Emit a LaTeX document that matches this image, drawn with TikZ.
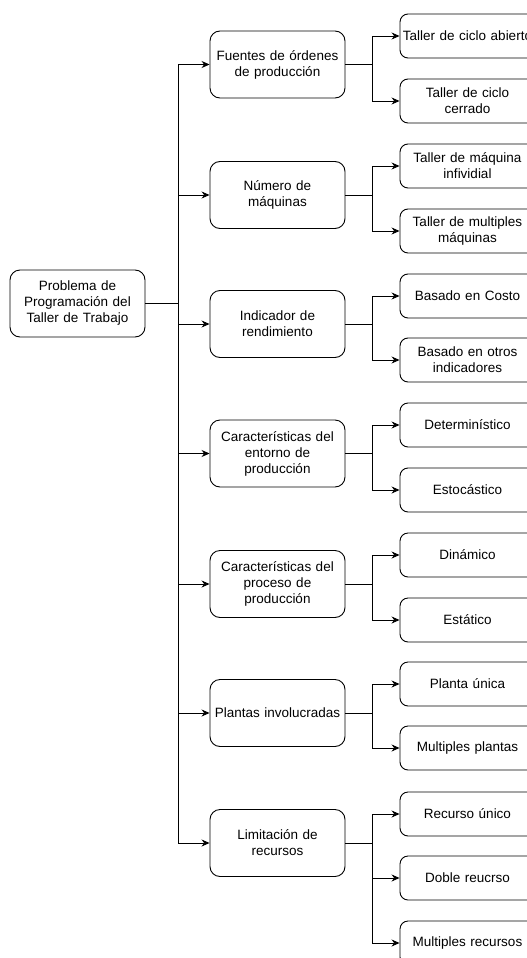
\documentclass[tikz,border=0pt]{standalone}
\usepackage{fontspec}
\setmainfont{Liberation Sans}
\usetikzlibrary{arrows.meta}

\tikzset{
  topbox/.style={draw, rounded corners=10pt, minimum width=135pt, minimum height=67pt,
    text width=131pt, align=center, inner sep=0pt, line width=0.9pt},
  catbox/.style={topbox},
  leafbox/.style={draw, rounded corners=8pt, minimum width=135pt, minimum height=44pt,
    text width=133pt, align=center, inner sep=0pt, line width=0.9pt},
  link/.style={line width=0.9pt, -{Stealth[length=8pt,width=7pt]}}
}

\begin{document}
\begin{tikzpicture}[x=1pt, y=-1pt, font=\fontsize{13.5}{16}\selectfont]

    % frame of the picture (pixel units)
    \useasboundingbox (0,0) rectangle (527,958);
    \clip (0,0) rectangle (527,958);

    % columns
    \def\Xr{77.5}
    \def\Xc{277.5}
    \def\Xl{467.5}

    % junction lines
    \coordinate (trunk) at (178,0);
    \coordinate (fork) at (372,0);

    % root
    \node[topbox] (root) at (\Xr,303.5) {Problema de\\Programación del\\Taller de Trabajo};

    % categories
    \node[catbox] (fuentes)   at (\Xc,64.5) {Fuentes de órdenes\\de producción};
    \node[catbox] (numero)    at (\Xc,195)  {Número de\\máquinas};
    \node[catbox] (indicador) at (\Xc,324)  {Indicador de\\rendimiento};
    \node[catbox] (entorno)   at (\Xc,453.5) {Características del\\entorno de\\producción};
    \node[catbox] (proceso)   at (\Xc,584)  {Características del\\proceso de\\producción};
    \node[catbox] (plantas)   at (\Xc,713)  {Plantas involucradas};
    \node[catbox] (recursos)  at (\Xc,843)  {Limitación de\\recursos};

    % leaves
    \node[leafbox] (abierto)   at (\Xl,36)  {Taller de ciclo abierto};
    \node[leafbox] (cerrado)   at (\Xl,101) {Taller de ciclo\\cerrado};
    \node[leafbox] (individ)   at (\Xl,166) {Taller de máquina\\infividial};
    \node[leafbox] (multimaq)  at (\Xl,231) {Taller de multiples\\máquinas};
    \node[leafbox] (costo)     at (\Xl,296) {Basado en Costo};
    \node[leafbox] (otros)     at (\Xl,360) {Basado en otros\\indicadores};
    \node[leafbox] (determ)    at (\Xl,425) {Determinístico};
    \node[leafbox] (estoc)     at (\Xl,490) {Estocástico};
    \node[leafbox] (dinam)     at (\Xl,555) {Dinámico};
    \node[leafbox] (estat)     at (\Xl,620) {Estático};
    \node[leafbox] (unica)     at (\Xl,684) {Planta única};
    \node[leafbox] (multipl)   at (\Xl,748) {Multiples plantas};
    \node[leafbox] (recunico)  at (\Xl,814) {Recurso único};
    \node[leafbox] (doble)     at (\Xl,878) {Doble reucrso};
    \node[leafbox] (multirec)  at (\Xl,943) {Multiples recursos};

    % root -> categories
    \draw[link] (root.east) -- (trunk |- root.east) |- (fuentes.west);
    \draw[link] (root.east) -- (trunk |- root.east) |- (numero.west);
    \draw[link] (root.east) -- (trunk |- root.east) |- (indicador.west);
    \draw[link] (root.east) -- (trunk |- root.east) |- (entorno.west);
    \draw[link] (root.east) -- (trunk |- root.east) |- (proceso.west);
    \draw[link] (root.east) -- (trunk |- root.east) |- (plantas.west);
    \draw[link] (root.east) -- (trunk |- root.east) |- (recursos.west);

    % categories -> leaves
    \draw[link] (fuentes.east) -- (fork |- fuentes.east) |- (abierto.west);
    \draw[link] (fuentes.east) -- (fork |- fuentes.east) |- (cerrado.west);
    \draw[link] (numero.east) -- (fork |- numero.east) |- (individ.west);
    \draw[link] (numero.east) -- (fork |- numero.east) |- (multimaq.west);
    \draw[link] (indicador.east) -- (fork |- indicador.east) |- (costo.west);
    \draw[link] (indicador.east) -- (fork |- indicador.east) |- (otros.west);
    \draw[link] (entorno.east) -- (fork |- entorno.east) |- (determ.west);
    \draw[link] (entorno.east) -- (fork |- entorno.east) |- (estoc.west);
    \draw[link] (proceso.east) -- (fork |- proceso.east) |- (dinam.west);
    \draw[link] (proceso.east) -- (fork |- proceso.east) |- (estat.west);
    \draw[link] (plantas.east) -- (fork |- plantas.east) |- (unica.west);
    \draw[link] (plantas.east) -- (fork |- plantas.east) |- (multipl.west);
    \draw[link] (recursos.east) -- (fork |- recursos.east) |- (recunico.west);
    \draw[link] (recursos.east) -- (fork |- recursos.east) |- (doble.west);
    \draw[link] (recursos.east) -- (fork |- recursos.east) |- (multirec.west);

\end{tikzpicture}
\end{document}
